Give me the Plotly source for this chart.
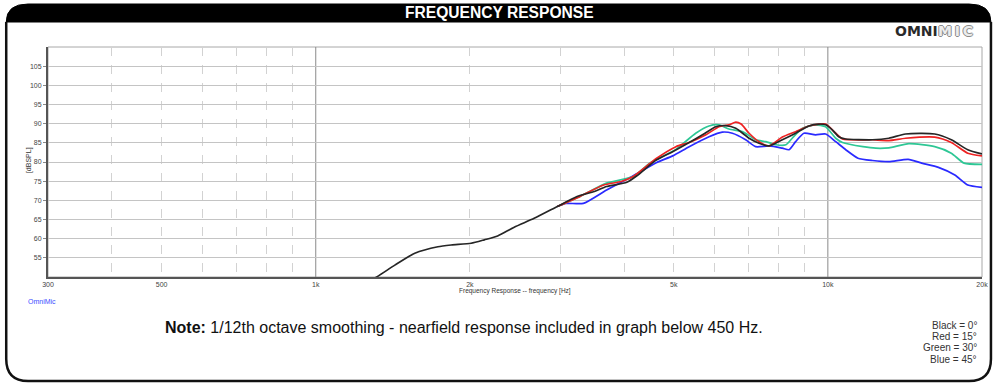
import math
import plotly.graph_objects as go

# ---------------- data ----------------
black_f = [1200, 1318, 1427, 1561, 1732, 1839, 2011, 2134, 2265, 2441, 2670, 2963, 3238, 3500,
           3698, 4050, 4238, 4623, 4977, 5360, 5691, 6043, 6320, 6610, 7017, 7340, 7680, 8150,
           8650, 9180, 9600, 9900, 10200, 10520, 10840, 12220, 13160, 14180, 16170, 17420,
           18760, 20000]
black_db = [47.0, 50.1, 53.1, 56.2, 57.9, 58.35, 58.8, 59.7, 60.7, 63.0, 65.3, 68.4, 71.0, 72.3,
            73.6, 74.7, 76.4, 80.5, 82.7, 85.1, 87.1, 89.2, 89.5, 88.8, 86.2, 84.9, 84.2, 85.8,
            87.5, 89.4, 89.9, 89.7, 88.4, 86.5, 86.0, 85.8, 86.2, 87.3, 87.3, 85.8,
            83.2, 82.1]

red_f = [2963, 3289, 3650, 3950, 4168, 4623, 5050, 5360, 5780, 6130, 6410, 6610, 6770, 7017,
         7340, 7680, 8150, 8650, 9180, 9900, 10360, 10680, 12220, 13160, 14180, 16170, 17420,
         18760, 20000]
red_db = [68.4, 71.1, 74.0, 74.9, 76.2, 80.9, 84.0, 85.1, 87.1, 89.2, 89.7, 90.4, 89.9, 87.5,
          85.3, 84.2, 86.5, 87.9, 89.4, 89.9, 87.5, 86.0, 85.8, 85.6, 86.2, 86.5, 85.1,
          82.3, 81.6]

green_f = [2963, 3289, 3698, 4168, 4490, 5050, 5520, 5860, 6130, 6410, 6820, 7230, 7570, 7920,
           8280, 8520, 8920, 9460, 9900, 10360, 10680, 11710, 12410, 13160, 14400, 16170,
           17420, 18450, 20000]
green_db = [68.4, 71.1, 74.5, 76.2, 79.7, 83.3, 87.5, 89.4, 89.7, 88.6, 87.9, 85.8, 85.3, 84.5,
            84.5, 86.2, 88.8, 89.7, 89.2, 86.2, 85.1, 84.0, 83.6, 83.7, 84.8, 84.0,
            82.3, 79.7, 79.4]

blue_f = [2963, 3080, 3330, 3698, 4168, 4623, 4977, 5360, 5860, 6220, 6510, 6910, 7230, 7680,
          8150, 8400, 8650, 8980, 9460, 9900, 10360, 10840, 11450, 12220, 13160, 14350, 15250,
          16440, 17700, 18760, 20000]
blue_db = [68.4, 69.2, 69.2, 72.7, 76.4, 79.8, 81.6, 84.0, 86.6, 87.8, 87.5, 85.8, 84.0, 84.2,
           83.6, 83.2, 85.3, 87.5, 87.1, 87.3, 85.3, 83.2, 81.0, 80.4, 80.1, 80.7, 79.7,
           78.6, 76.6, 74.0, 73.4]

x_tick_vals = [300, 500, 1000, 2000, 5000, 10000, 20000]
x_tick_text = ["300", "500", "1k", "2k", "5k", "10k", "20k"]
x_minor_vals = [400, 500, 600, 700, 800, 900, 2000, 3000, 4000, 5000, 6000, 7000, 8000, 9000]
x_major_vals = [1000, 10000]
y_tick_vals = [55, 60, 65, 70, 75, 80, 85, 90, 95, 100, 105]

legend_lines = ["Black = 0°", "Red = 15°", "Green = 30°", "Blue = 45°"]

# ---------------- layout geometry ----------------
W, H = 1000, 386
L, R, T, B = 48, 987, 47, 277
XMIN, XMAX = 300, 20000
YMIN, YMAX = 50, 110


def px(x):
    return (x - L) / (R - L)


def py(y):
    return (B - y) / (B - T)


def fx(f):
    return math.log10(f / XMIN) / math.log10(XMAX / XMIN)


FONT = "Arial, Liberation Sans, sans-serif"

fig = go.Figure()
series = [
    (blue_f, blue_db, "#2a2aff"),
    (green_f, green_db, "#2ec795"),
    (red_f, red_db, "#ee2222"),
    (black_f, black_db, "#262626"),
]
for f, d, c in series:
    fig.add_trace(go.Scatter(x=f, y=d, mode="lines",
                             line=dict(color=c, width=1.7, shape="spline", smoothing=0.6),
                             hoverinfo="skip", showlegend=False))

shapes = []
shapes.append(dict(type="rect", xref="paper", yref="paper", x0=0, x1=1, y0=0, y1=1,
                   line=dict(color="#a8a8a8", width=1), layer="below"))
for f in x_major_vals:
    shapes.append(dict(type="line", xref="paper", yref="paper", x0=fx(f), x1=fx(f), y0=0, y1=1,
                       line=dict(color="#8a8a8a", width=1), layer="below"))
r = 22
x0, x1, y0, yh, y1 = 6, 996, 4, 22, 381
hdr = (f"M {px(x0)},{py(yh)} Q {px(x0)},{py(y0)} {px(x0 + r)},{py(y0)} "
       f"L {px(x1 - r)},{py(y0)} Q {px(x1)},{py(y0)} {px(x1)},{py(yh)} Z")
shapes.append(dict(type="path", xref="paper", yref="paper", path=hdr,
                   fillcolor="black", line=dict(color="black", width=1)))
border = (f"M {px(x0)},{py(yh)} L {px(x0)},{py(y1 - r)} Q {px(x0)},{py(y1)} {px(x0 + r)},{py(y1)} "
          f"L {px(x1 - r)},{py(y1)} Q {px(x1)},{py(y1)} {px(x1)},{py(y1 - r)} L {px(x1)},{py(yh)}")
shapes.append(dict(type="path", xref="paper", yref="paper", path=border,
                   line=dict(color="#111111", width=2.5)))

annotations = []
annotations.append(dict(xref="paper", yref="paper", x=px(502), y=py(13), text="<b>FREQUENCY RESPONSE</b>",
                        showarrow=False, borderpad=0, font=dict(family=FONT, size=15.6, color="white"),
                        xanchor="center", yanchor="middle"))
annotations.append(dict(xref="paper", yref="paper", x=px(944), y=py(31), text="<b>OMNI</b>",
                        showarrow=False, borderpad=0,
                        font=dict(family="DejaVu Sans", size=14, color="#2a2a2a"),
                        xanchor="right", yanchor="middle"))
annotations.append(dict(xref="paper", yref="paper", x=px(942), y=py(31), text="<b>M\u2009I\u2009C</b>",
                        showarrow=False, borderpad=0,
                        font=dict(family="DejaVu Sans", size=14, color="#ececec",
                                  shadow="-1px 0 #8a8a8a, 1px 0 #8a8a8a, 0 -1px #8a8a8a, 0 1px #8a8a8a"),
                        xanchor="left", yanchor="middle"))
annotations.append(dict(xref="paper", yref="paper", x=px(29), y=py(160), text="[dBSPL]", textangle=-90,
                        showarrow=False, font=dict(family=FONT, size=7, color="#333"),
                        xanchor="center", yanchor="middle"))
annotations.append(dict(xref="paper", yref="paper", x=px(518), y=py(291),
                        text="Frequency Response -- frequency [Hz]",
                        showarrow=False, borderpad=0, font=dict(family=FONT, size=6.5, color="#333"),
                        xanchor="center", yanchor="middle"))
annotations.append(dict(xref="paper", yref="paper", x=px(27), y=py(301), text="OmniMic",
                        showarrow=False, borderpad=0, font=dict(family=FONT, size=7, color="#3b4dff"),
                        xanchor="left", yanchor="middle"))
annotations.append(dict(xref="paper", yref="paper", x=px(466), y=py(327),
                        text="<b>Note:</b> 1/12th octave smoothing - nearfield response included in graph below 450 Hz.",
                        showarrow=False, borderpad=0, font=dict(family=FONT, size=16, color="#111"),
                        xanchor="center", yanchor="middle"))
for i, t in enumerate(legend_lines):
    annotations.append(dict(xref="paper", yref="paper", x=px(983), y=py(325 + i * 11.4), text=t,
                            showarrow=False, borderpad=0, font=dict(family=FONT, size=10, color="#333"),
                            xanchor="right", yanchor="middle"))

fig.update_layout(
    width=W, height=H,
    margin=dict(l=L, r=W - R, t=T, b=H - B, pad=0),
    paper_bgcolor="white", plot_bgcolor="white",
    shapes=shapes, annotations=annotations,
    xaxis=dict(type="log", range=[math.log10(XMIN), math.log10(XMAX)],
               tickvals=x_tick_vals, ticktext=x_tick_text, showgrid=False,
               tickfont=dict(family=FONT, size=7, color="#444"),
               ticks="", ticklen=0, showline=True, linecolor="#555", linewidth=2,
               minor=dict(tickvals=x_minor_vals, showgrid=True, gridcolor="#d2d2d2",
                          griddash="dash", gridwidth=1, ticks=""),
               zeroline=False, fixedrange=True),
    yaxis=dict(range=[YMIN, YMAX], tickvals=y_tick_vals, showgrid=True, gridcolor="#c4c4c4",
               gridwidth=1, tickfont=dict(family=FONT, size=7, color="#444"),
               ticks="outside", ticklen=3, tickcolor="#888",
               showline=True, linecolor="#555", linewidth=2, zeroline=False, fixedrange=True),
)

fig.write_html("out.html", config={"displayModeBar": False},
               post_script="document.body.style.margin='0';document.body.style.overflow='hidden';")
